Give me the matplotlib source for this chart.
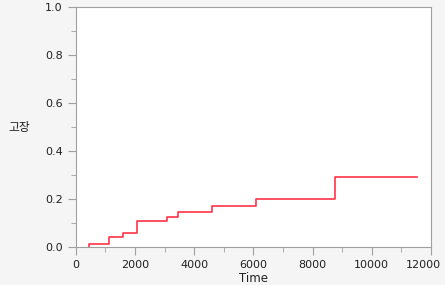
import matplotlib
matplotlib.use("Agg")
import matplotlib.pyplot as plt
import matplotlib.transforms as mtrans
from matplotlib.ticker import MultipleLocator

plt.rcParams["font.family"] = ["DejaVu Sans", "Noto Sans CJK KR"]

# step points (time, cumulative failure)
times = [439, 439, 1135, 1598, 2060, 3095, 3445, 4605, 6100, 8760, 11520]
failure = [0.0, 0.0125, 0.043, 0.058, 0.110, 0.128, 0.147, 0.173, 0.203, 0.293, 0.293]
xticks = [0, 2000, 4000, 6000, 8000, 10000, 12000]
yticks = [0.0, 0.2, 0.4, 0.6, 0.8, 1.0]

fig = plt.figure(figsize=(4.45, 2.85), dpi=100, facecolor="#f5f5f5")
ax = fig.add_axes([75.7 / 445, 1 - 247.3 / 285, (431 - 75.7) / 445, 240 / 285])
ax.set_facecolor("white")

ax.step(times, failure, where="post", color="#ff3347", linewidth=1.2)

ax.set_xlim(0, 12000)
ax.set_ylim(0, 1.0)
ax.set_xticks(xticks, [str(t) for t in xticks])
ax.set_yticks(yticks, [f"{v:.1f}" for v in yticks])
ax.xaxis.set_minor_locator(MultipleLocator(1000))
ax.yaxis.set_minor_locator(MultipleLocator(0.1))

for s in ax.spines.values():
    s.set_color("#a0a0a0")
ax.tick_params(which="both", colors="#a0a0a0", labelcolor="#202020", labelsize=8)
ax.tick_params(which="major", length=6)
ax.tick_params(which="minor", length=3.5)

# last x label nudged left so it stays inside the figure
last = ax.get_xticklabels()[-1]
last.set_transform(last.get_transform() + mtrans.ScaledTranslation(-8 / 100, 0, fig.dpi_scale_trans))

ax.set_xlabel("Time", fontsize=8.5, color="#202020", labelpad=1)
ax.set_ylabel("고장", fontsize=8.5, color="#202020", rotation=0,
              family=["Noto Sans CJK KR", "DejaVu Sans"], labelpad=18, va="center")

fig.savefig("out.png", dpi=100, facecolor=fig.get_facecolor())
